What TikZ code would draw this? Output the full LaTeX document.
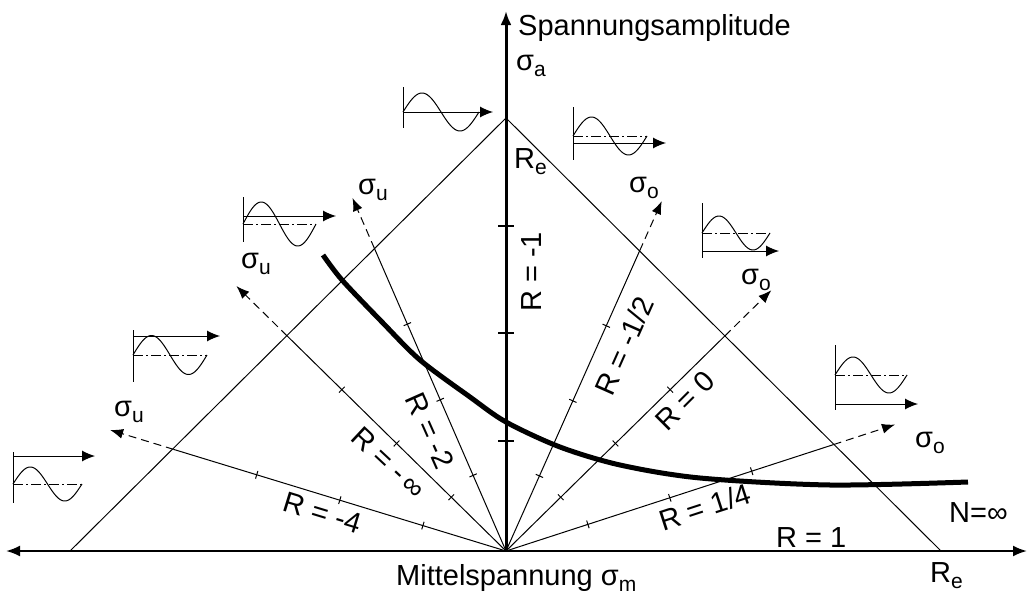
\documentclass[tikz,border=0pt]{standalone}
\usepackage{fontspec}
\setmainfont{Liberation Sans}
\usetikzlibrary{arrows.meta}
\newcommand{\lowsub}[1]{\raisebox{-6pt}{\fontsize{21}{21}\selectfont #1}}
\tikzset{
  thinline/.style={line width=1pt},
  axisline/.style={line width=2.2pt},
  dashray/.style={line width=1pt, dash pattern=on 8pt off 5pt},
  dashdot/.style={line width=0.9pt, dash pattern=on 10pt off 3pt on 2pt off 3pt},
  raytip/.style={-{Latex[length=13pt,width=10pt]}},
  icontip/.style={-{Latex[length=13pt,width=11pt]}},
  bigtip/.tip={Latex[length=14pt,width=11pt]},
  lbl/.style={font=\fontsize{29}{31}\selectfont, inner sep=0pt},
}
\newcommand{\wavicon}[9]{%
  \draw[thinline] (#1,#2) -- (#1,#3);
  \draw[thinline, icontip] (#1,#4) -- (#5,#4);
  \ifnum#9=1 \draw[dashdot] (#1,#6) -- ({#1+#8},#6); \fi
  \draw[thinline] plot[domain=0:360,samples=60,smooth] ({#1+\x/360*#8},{#6-#7*sin(\x)});
}
\newcommand{\rayline}[3]{% name, angle, length
  \begin{scope}[shift={(506,551)}, x=1pt, y=1pt, rotate=#2]
    \pgfmathsetmacro\ss{abs(cos(#2))+sin(#2)}
    \pgfmathsetmacro\dd{434/\ss}
    \coordinate (s#1) at (\dd,0);
    \coordinate (t#1) at (#3,0);
    \draw[thinline] (O) -- (s#1);
    \draw[dashray, raytip] (s#1) -- (t#1);
    \foreach \k in {1,2,3} {\draw[thinline] ({\k*108.5/\ss},-4) -- ({\k*108.5/\ss},4);}
  \end{scope}}
\begin{document}
\begin{tikzpicture}[x=1pt,y=-1pt]
\useasboundingbox (0,0) rectangle (1029,597);
\coordinate (O) at (506,551);
\coordinate (A) at (506,118);
\coordinate (BL) at (70,551);
\coordinate (BR) at (941,551);
\coordinate (XL) at (6,551);
\coordinate (XR) at (1027,551);
\coordinate (YT) at (506,11);
% triangle
\draw[thinline] (BL) -- (A) -- (BR);
% rays
\rayline{a}{18}{409}
\rayline{b}{44.5}{372}
\rayline{c}{66}{383}
\rayline{d}{113.5}{385}
\rayline{e}{135.5}{378}
\rayline{f}{163}{414}
% axes
\draw[axisline, {bigtip}-{bigtip}] (XL) -- (XR);
\draw[line width=3pt, -{bigtip}] (O) -- (YT);
\foreach \yy in {441,333,226} {\draw[line width=2.5pt] (498,\yy) -- (514,\yy);}
% curve
\draw[line width=5pt] plot[smooth] coordinates {(323,255) (342,280) (382,322) (420,360) (470,397) (506,422) (560,447) (620,465) (700,478) (830,485) (968,482)};
% icons
\wavicon{13}{452}{503}{456}{95}{484}{17}{69}{1}
\wavicon{133}{330}{382}{336}{220}{355}{19.5}{74}{1}
\wavicon{243}{197}{242}{216}{336}{224}{22}{73}{1}
\wavicon{403}{87}{128}{112}{493}{112}{19}{76}{0}
\wavicon{573}{107}{160}{143}{666}{136}{19}{74}{1}
\wavicon{702}{203}{258}{251}{779}{233}{17}{68}{1}
\wavicon{835}{345}{410}{404}{918}{375}{18}{72}{1}
% labels
\node[lbl, anchor=base west] (ylab) at (518,35) {Spannungsamplitude};
\node[lbl, anchor=base west] (sa) at (516,70) {σ\lowsub{a}};
\node[lbl, anchor=base west] (re1) at (514,168) {R\lowsub{e}};
\node[lbl, anchor=base west] (re2) at (930,582) {R\lowsub{e}};
\node[lbl, anchor=base west] (xlab) at (396,585) {Mittelspannung σ\lowsub{m}};
\node[lbl, anchor=base west] (ninf) at (949,522) {N=∞};
\node[lbl, rotate=90] (rm1) at (532,272) {R = -1};
\node[lbl, rotate=66] (rmh) at (624,346) {R = -1/2};
\node[lbl, rotate=45] (r0) at (685,401) {R = 0};
\node[lbl, rotate=18] (rq) at (705,507) {R = 1/4};
\node[lbl, anchor=base west] (r1) at (776,547) {R = 1};
\node[lbl, rotate=-66] (rm2) at (430,431) {R = -2};
\node[lbl, rotate=-43] (rmi) at (389,463) {R = -\,∞};
\node[lbl, rotate=-17] (rm4) at (323,513) {R = -4};
\node[lbl, anchor=base west] (so1) at (629,192) {σ\lowsub{o}};
\node[lbl, anchor=base west] (so2) at (741,284) {σ\lowsub{o}};
\node[lbl] (so3) at (930,443) {σ\lowsub{o}};
\node[lbl] (su1) at (373,190) {σ\lowsub{u}};
\node[lbl] (su2) at (256,264) {σ\lowsub{u}};
\node[lbl] (su3) at (129,412) {σ\lowsub{u}};
\end{tikzpicture}
\end{document}
